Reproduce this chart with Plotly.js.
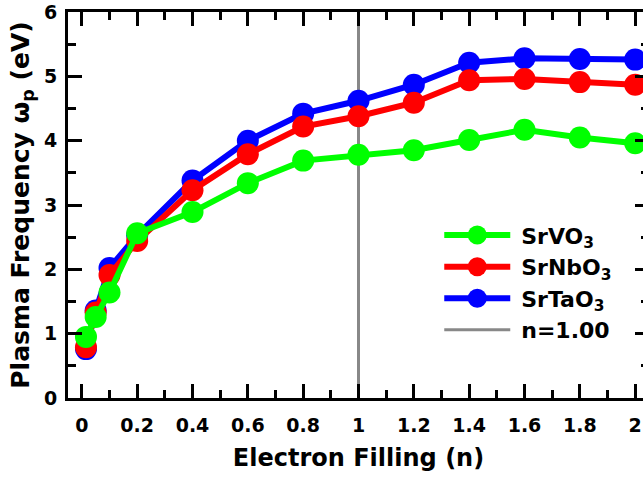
<!DOCTYPE html>
<html>
<head>
<meta charset="utf-8">
<script src="https://cdn.plot.ly/plotly-3.0.1.min.js"></script>
<style>
html, body { margin: 0; padding: 0; overflow: hidden; background: #fff; }
#chart { width: 653px; height: 478px; }
</style>
</head>
<body>
<div id="chart"></div>
<script>
// Electron filling (n)
const filling = [0.015, 0.05, 0.1, 0.2, 0.4, 0.6, 0.8, 1.0, 1.2, 1.4, 1.6, 1.8, 2.0];
// Plasma frequency (eV)
const srVO3  = [0.95, 1.26, 1.64, 2.56, 2.89, 3.34, 3.69, 3.78, 3.85, 4.01, 4.17, 4.05, 3.96];
const srNbO3 = [0.79, 1.33, 1.91, 2.44, 3.23, 3.79, 4.22, 4.38, 4.59, 4.94, 4.96, 4.91, 4.87];
const srTaO3 = [0.76, 1.36, 2.02, 2.53, 3.38, 4.00, 4.42, 4.62, 4.87, 5.21, 5.28, 5.27, 5.26];
// reference line n = 1.00
const refX = [1, 1];
const refY = [0, 6];
const seriesNames = ['SrVO<sub>3</sub>', 'SrNbO<sub>3</sub>', 'SrTaO<sub>3</sub>', 'n=1.00'];
const xTickVals = [0, 0.2, 0.4, 0.6, 0.8, 1, 1.2, 1.4, 1.6, 1.8, 2];
const xTickText = ['0', '0.2', '0.4', '0.6', '0.8', '1', '1.2', '1.4', '1.6', '1.8', '2'];

const FONT = 'DejaVu Sans';
const mk = (y, name, color) => ({
  x: filling, y: y, name: name, type: 'scatter', mode: 'lines+markers',
  line: {color: color, width: 6},
  marker: {color: color, size: 22, symbol: 'circle'}
});

const traces = [
  {x: refX, y: refY, name: seriesNames[3], type: 'scatter', mode: 'lines',
   line: {color: '#888888', width: 3}},
  mk(srTaO3, seriesNames[2], '#0000ff'),
  mk(srNbO3, seriesNames[1], '#ff0000'),
  mk(srVO3, seriesNames[0], '#00ff00')
];

const axisCommon = {
  showline: true, linecolor: '#000', linewidth: 3, mirror: 'ticks',
  ticks: 'inside', ticklen: 14, tickwidth: 3, tickcolor: '#000',
  showgrid: false, zeroline: false,
  tickfont: {family: FONT, size: 19, color: '#000', weight: 700}
};

const layout = {
  width: 653, height: 478,
  margin: {l: 68, r: 4, t: 12, b: 80},
  paper_bgcolor: '#fff', plot_bgcolor: '#fff',
  showlegend: true,
  legend: {
    traceorder: 'reversed', x: 0.639, xanchor: 'left', y: 0.476, yanchor: 'top',
    bgcolor: 'rgba(0,0,0,0)', borderwidth: 0, itemwidth: 72,
    font: {family: FONT, size: 22, color: '#000', weight: 700}
  },
  xaxis: Object.assign({}, axisCommon, {
    range: [-0.05, 2.05], tickmode: 'array',
    tickvals: xTickVals, ticktext: xTickText,
    minor: {dtick: 0.1, tick0: 0, ticks: 'inside', ticklen: 8, tickwidth: 3, tickcolor: '#000'},
    ticklabelstandoff: 8,
    title: {text: 'Electron Filling (n)', standoff: 15,
            font: {family: FONT, size: 24, color: '#000', weight: 700}}
  }),
  yaxis: Object.assign({}, axisCommon, {
    range: [0, 6], dtick: 1, tick0: 0,
    minor: {dtick: 0.5, ticks: 'inside', ticklen: 8, tickwidth: 3, tickcolor: '#000'},
    ticklabelstandoff: 4,
    title: {text: 'Plasma Frequency ω<sub>p</sub> (eV)', standoff: 8,
            font: {family: FONT, size: 25, color: '#000', weight: 700}}
  })
};

Plotly.newPlot('chart', traces, layout, {displayModeBar: false, staticPlot: true}).then(gd => {
  // Lengthen legend symbols to match the original style
  const r = 9.5;
  const circle = `M${r},0A${r},${r} 0 1,1 0,-${r}A${r},${r} 0 0,1 ${r},0Z`;
  gd.querySelectorAll('.legend .traces').forEach(g => {
    g.querySelectorAll('.legendlines path').forEach(p => p.setAttribute('d', 'M5,0h66'));
    g.querySelectorAll('.legendpoints path.scatterpts').forEach(p => {
      p.setAttribute('d', circle);
      p.setAttribute('transform', 'translate(38,0)');
    });
  });
});
</script>
</body>
</html>
